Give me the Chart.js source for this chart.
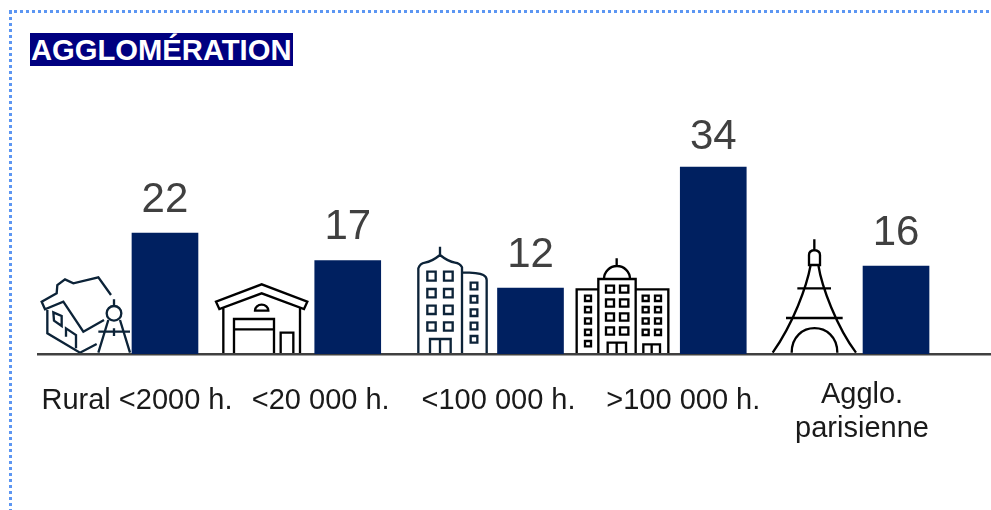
<!DOCTYPE html>
<html>
<head>
<meta charset="utf-8">
<script src="https://cdn.jsdelivr.net/npm/chart.js@4"></script>
<style>
  html, body { margin: 0; background: #fff; overflow: hidden; }
  #wrap { position: relative; width: 991px; height: 510px; }
  #frame { position: absolute; left: 9px; top: 10px; right: -10px; bottom: -10px; border-left: 3px dotted #5c96f2; border-top: 3px dotted #5c96f2; }
  #title { position: absolute; left: 30px; top: 33px; height: 33px; width: 262px; padding-left: 1px; background: #000080; color: #fff; font: bold 29.2px/35px "Liberation Sans", sans-serif; white-space: nowrap; overflow: hidden; }
  canvas { position: absolute; left: 0; top: 0; }
</style>
</head>
<body>
<div id="wrap">
  <canvas id="agglo" width="991" height="510"></canvas>
  <div id="frame"></div>
  <div id="title">AGGLOMÉRATION</div>
</div>
<script>
const categories = ['Rural <2000 h.', '<20 000 h.', '<100 000 h.', '>100 000 h.', ['Agglo.', 'parisienne']];
const values = [22, 17, 12, 34, 16];

// labels sit under the picto + bar pair, not under the bar
const labelShift = [-28, -27, -32, -30, -34];
// distance from bar top to the number above it
const valueGap = [33, 33, 33, 30, 33];

// line icons, drawn in 3x units from an origin
const icons = [
  { x: 30, y: 230, color: '#0c2338', d: 'M243,195 L205,142 L130,160 L105,148 L82,165 L80,190 L35,215 L45,238 L100,215 L160,305 L222,270 M52,240 V310 L150,368 L200,342 M70,247 L95,258 V288 L72,272 Z M108,320 V295 L138,315 V355 M252,208 V228 M274,250 A22,22 0 1 1 230,250 A22,22 0 1 1 274,250 M235,270 L205,368 M270,270 L300,368 M205,305 H300 M252,295 V318' },
  { x: 30, y: 230, color: '#000', d: 'M568,237 L558,215 L695,163 L832,215 L822,237 L695,190 Z M580,232 V370 M810,232 V370 M675,242 A20,18 0 0 1 715,242 Z M612,370 V267 H732 V370 M612,298 H732 M752,370 V308 H790 V370' },
  { x: 400, y: 230, color: '#0c2338', d: 'M55,370 V115 Q60,100 75,98 Q95,95 120,75 Q145,95 165,98 Q180,100 186,112 V370 M120,50 V75 M186,127 Q235,127 250,135 Q260,140 260,150 V370 M82,125 H107 V152 H82 Z M132,125 H158 V152 H132 Z M82,177 H107 V202 H82 Z M132,177 H158 V202 H132 Z M82,227 H107 V252 H82 Z M132,227 H158 V252 H132 Z M82,277 H107 V302 H82 Z M132,277 H158 V302 H132 Z M90,370 V327 H152 V370 M120,327 V370 M212,158 H232 V178 H212 Z M212,198 H232 V218 H212 Z M212,238 H232 V258 H212 Z M212,278 H232 V298 H212 Z M212,318 H232 V338 H212 Z' },
  { x: 400, y: 230, color: '#000', d: 'M595,370 V147 H707 V370 M612,147 A38,38 0 0 1 690,147 M650,85 V108 M595,178 H530 V370 M707,178 H805 V370 M618,167 H642 V188 H618 Z M660,167 H685 V188 H660 Z M618,208 H642 V230 H618 Z M660,208 H685 V230 H660 Z M618,250 H642 V272 H618 Z M660,250 H685 V272 H660 Z M618,292 H642 V314 H618 Z M660,292 H685 V314 H660 Z M623,370 V338 H678 V370 M650,338 V370 M555,197 H573 V213 H555 Z M555,231 H573 V247 H555 Z M555,265 H573 V281 H555 Z M555,299 H573 V315 H555 Z M555,333 H573 V349 H555 Z M728,197 H746 V213 H728 Z M765,197 H783 V213 H765 Z M728,231 H746 V247 H728 Z M765,231 H783 V247 H765 Z M728,265 H746 V281 H728 Z M765,265 H783 V281 H765 Z M728,299 H746 V315 H728 Z M765,299 H783 V315 H765 Z M730,370 V343 H780 V370 M755,343 V370' },
  { x: 750, y: 220, color: '#000', d: 'M193,58 V90 M177,135 V105 Q177,92 193,90 Q210,92 210,105 V135 Z M182,135 C170,200 130,310 68,398 M205,135 C215,200 260,320 318,398 M142,205 H243 M108,294 H278 M125,398 C125,300 262,300 262,398' }
];

const decor = {
  id: 'decor',
  beforeDatasetsDraw(chart) {
    const ctx = chart.ctx;
    const base = chart.scales.y.getPixelForValue(0);
    ctx.save();
    icons.forEach(ic => {
      ctx.save();
      ctx.translate(ic.x, ic.y);
      ctx.scale(1 / 3, 1 / 3);
      ctx.strokeStyle = ic.color;
      ctx.lineWidth = 7;
      ctx.stroke(new Path2D(ic.d));
      ctx.restore();
    });
    ctx.fillStyle = '#404040';
    ctx.fillRect(37, base - 1, 954, 2.5);
    ctx.restore();
  },
  afterDatasetsDraw(chart) {
    const ctx = chart.ctx;
    ctx.save();
    ctx.font = '42px "Liberation Sans"';
    ctx.fillStyle = '#404040';
    ctx.textAlign = 'center';
    ctx.textBaseline = 'middle';
    chart.getDatasetMeta(0).data.forEach((bar, i) => {
      ctx.fillText(values[i], bar.x, bar.y - valueGap[i]);
    });
    ctx.restore();
  }
};

new Chart(document.getElementById('agglo'), {
  type: 'bar',
  data: {
    labels: categories,
    datasets: [{
      data: values,
      backgroundColor: '#002060',
      barThickness: 66
    }]
  },
  options: {
    responsive: false,
    animation: false,
    layout: { padding: { left: 73.6, right: 3.6, top: 134, bottom: 0 } },
    plugins: { legend: { display: false }, tooltip: { enabled: false } },
    scales: {
      x: {
        grid: { display: false, drawTicks: false },
        border: { display: false },
        ticks: {
          autoSkip: false,
          maxRotation: 0,
          padding: 24,
          color: '#1a1a1a',
          // taller line box pushes the one-line labels down
          font: ctx => ({
            family: '"Liberation Sans"',
            size: 29,
            lineHeight: ctx.index === 4 ? '34px' : '46px'
          })
        },
        afterFit(scale) {
          scale.height = 156;
          scale.getPixelForTick = i => scale.getPixelForValue(i) + labelShift[i];
        }
      },
      y: { display: false, min: 0, max: 40 }
    }
  },
  plugins: [decor]
});
</script>
</body>
</html>
